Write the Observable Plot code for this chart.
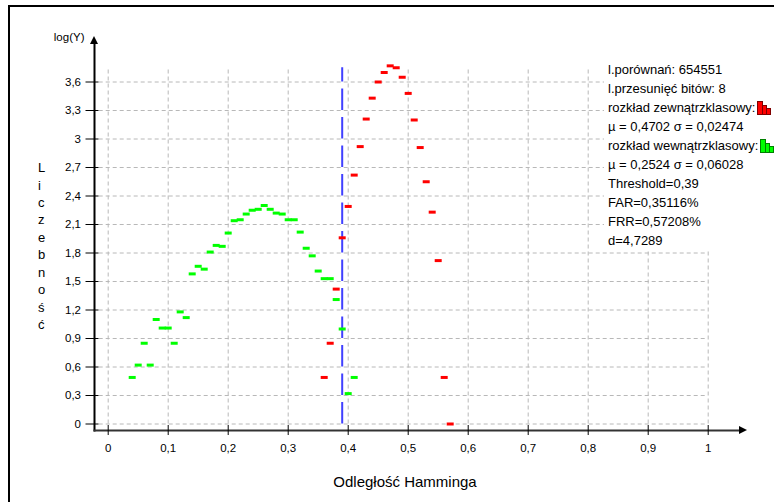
<!DOCTYPE html>
<html>
<head>
<meta charset="utf-8">
<script src="https://cdn.jsdelivr.net/npm/d3@7"></script>
<script src="https://cdn.jsdelivr.net/npm/@observablehq/plot@0.6"></script>
<style>
  body { margin: 0; background: #fff; }
  #wrap { position: relative; width: 774px; height: 502px; overflow: hidden; background: #fff; }
  #frame { position: absolute; left: 8px; top: 5px; width: 900px; height: 700px; border-left: 2px solid #000; border-top: 2px solid #000; pointer-events: none; }
  #legend { position: absolute; left: 604px; top: 60px; width: 170px; height: 190px; background: #fff;
            font-family: "Liberation Sans", Arial, sans-serif; font-size: 13px; line-height: 19px; color: #000; }
  #legend div { padding-left: 4px; white-space: nowrap; position: relative; }
  #legend svg { position: absolute; top: 3px; }
</style>
</head>
<body>
<div id="wrap">
  <div id="frame"></div>
</div>
<script>
// ---- data ----
const xTicks = [0, 0.1, 0.2, 0.3, 0.4, 0.5, 0.6, 0.7, 0.8, 0.9, 1];
const yTicks = [0, 0.3, 0.6, 0.9, 1.2, 1.5, 1.8, 2.1, 2.4, 2.7, 3, 3.3, 3.6];
const threshold = 0.39;

// within-class distribution (green)
const greenX = [0.04, 0.05, 0.06, 0.07, 0.08, 0.09, 0.10, 0.11, 0.12, 0.13, 0.14, 0.15, 0.16, 0.17, 0.18, 0.19,
                0.20, 0.21, 0.22, 0.23, 0.24, 0.25, 0.26, 0.27, 0.28, 0.29, 0.30, 0.31, 0.32, 0.33, 0.34, 0.35,
                0.36, 0.37, 0.38, 0.39, 0.40, 0.41];
const greenY = [0.49, 0.62, 0.85, 0.62, 1.10, 1.01, 1.01, 0.85, 1.18, 1.12, 1.58, 1.66, 1.63, 1.81, 1.88, 1.87,
                2.01, 2.14, 2.15, 2.21, 2.25, 2.26, 2.30, 2.26, 2.22, 2.21, 2.15, 2.15, 2.02, 1.85, 1.77, 1.61,
                1.53, 1.53, 1.31, 1.00, 0.32, 0.49];

// between-class distribution (red)
const redX = [0.36, 0.37, 0.38, 0.39, 0.40, 0.41, 0.42, 0.43, 0.44, 0.45, 0.46, 0.47, 0.48, 0.49, 0.50,
              0.51, 0.52, 0.53, 0.54, 0.55, 0.56, 0.57];
const redY = [0.49, 0.85, 1.42, 1.96, 2.29, 2.62, 2.92, 3.21, 3.43, 3.60, 3.70, 3.77, 3.75, 3.65, 3.48,
              3.20, 2.91, 2.55, 2.23, 1.72, 0.49, 0.00];

const legendLines = [
  "l.porównań: 654551",
  "l.przesunięć bitów: 8",
  "rozkład zewnątrzklasowy:",
  "µ = 0,4702 σ = 0,02474",
  "rozkład wewnątrzklasowy:",
  "µ = 0,2524 σ = 0,06028",
  "Threshold=0,39",
  "FAR=0,35116%",
  "FRR=0,57208%",
  "d=4,7289"
];
const xTitle = "Odległość Hamminga";
const yTitle = "Liczebność";
const yUnit = "log(Y)";

// ---- build ----
const green = greenX.map((x, i) => ({x, y: greenY[i]}));
const red = redX.map((x, i) => ({x, y: redY[i]}));
const fmt = d => String(Math.round(d * 10) / 10).replace(".", ",");
const gridTop = 3.75;
const gridLeft = -0.015;
const dash = { draw(ctx) { ctx.rect(-3.5, -1.5, 7, 3); } };

const chart = Plot.plot({
  width: 774,
  height: 502,
  marginLeft: 94,
  marginRight: 35,
  marginTop: 42,
  marginBottom: 72,
  style: { fontFamily: "'Liberation Sans', Arial, sans-serif", fontSize: "11.5px", background: "transparent", color: "#000" },
  x: { domain: [0, 1], range: [107.7, 707.7] },
  y: { domain: [0, 3.6], range: [423.5, 81.5] },
  marks: [
    Plot.ruleX(xTicks, { x: d => d, y1: 0, y2: gridTop, stroke: "#b8b8b8", strokeDasharray: "4,3" }),
    Plot.ruleY(yTicks, { y: d => d, x1: gridLeft, x2: 1, stroke: "#b8b8b8", strokeDasharray: "4,3" }),
    Plot.ruleX([threshold], { x: d => d, y1: 0, y2: gridTop, stroke: "#4040ff", strokeWidth: 2, strokeDasharray: "21.4,7.1" }),
    Plot.dot(green, { x: "x", y: "y", symbol: dash, fill: "#00ff00", stroke: null, r: 3 }),
    Plot.dot(red, { x: "x", y: "y", symbol: dash, fill: "#ff0000", stroke: null, r: 3 }),
    Plot.frame({ anchor: "left", stroke: "#000", strokeWidth: 2 }),
    Plot.frame({ anchor: "bottom", stroke: "#333", strokeWidth: 2 }),
    Plot.axisY(yTicks, { anchor: "left", tickSize: 13, dx: 4.5, tickPadding: 5, tickFormat: fmt, label: null }),
    Plot.axisX(xTicks, { anchor: "bottom", tickSize: 10, dy: -5, tickPadding: 8, tickFormat: fmt, label: null }),
    Plot.text([yUnit], { frameAnchor: "top-left", dx: -10, dy: -5, textAnchor: "end", lineAnchor: "middle", fontSize: 11.5 }),
    Plot.text([xTitle], { frameAnchor: "bottom", dx: -12, dy: 52, lineAnchor: "middle", fontSize: 15 }),
    Plot.text([yTitle.split("").join("\n")], { frameAnchor: "left", dx: -56.5, dy: 8.5, lineAnchor: "middle", lineHeight: 1.34, fontSize: 13 })
  ]
});

const wrap = document.getElementById("wrap");
wrap.insertBefore(chart, wrap.firstChild);

// axis arrowheads
const svg = d3.select(chart);
svg.append("path").attr("d", "M94,36 L90,44 L98,44 Z").attr("fill", "#000");
svg.append("path").attr("d", "M747,430 L739,426 L739,434 Z").attr("fill", "#000");

// legend panel
const legend = d3.select(wrap).append("div").attr("id", "legend");
legendLines.forEach((t, i) => {
  const row = legend.append("div").text(t);
  if (i === 2 || i === 4) {
    const col = i === 2 ? "#ff0000" : "#00ff00";
    const dark = i === 2 ? "#800000" : "#008000";
    const icon = row.append("svg").attr("width", 15).attr("height", 14)
      .style("left", (i === 2 ? 153 : 156) + "px");
    [[0.5, 0.5, 5, 13], [5.5, 4.5, 4, 9], [9.5, 7.5, 4, 6]].forEach(([x, y, w, h]) =>
      icon.append("rect").attr("x", x).attr("y", y).attr("width", w).attr("height", h)
        .attr("fill", col).attr("stroke", dark).attr("stroke-width", 1));
  }
});
</script>
</body>
</html>
